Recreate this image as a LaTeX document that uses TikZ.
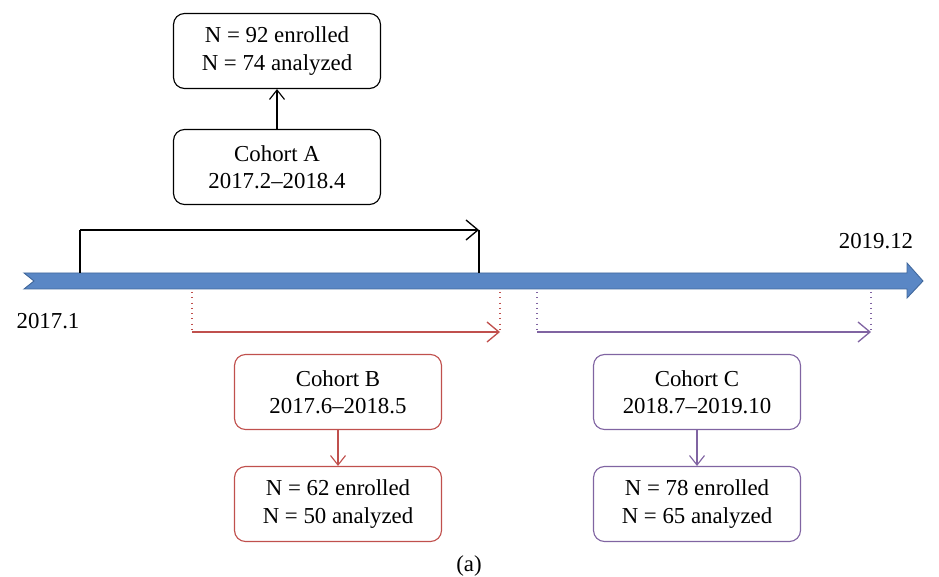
\documentclass[tikz,border=0pt]{standalone}
\usepackage{fontspec}
\setmainfont{Liberation Serif}
\usetikzlibrary{arrows.meta,positioning}

\definecolor{tlblue}{HTML}{5A87C5}
\definecolor{tledge}{HTML}{41689C}
\definecolor{cohred}{HTML}{C0504D}
\definecolor{cohpurple}{HTML}{8064A2}

\begin{document}
\begin{tikzpicture}[x=0.02cm,y=-0.02cm,
      font=\fontsize{13}{15.5}\selectfont,
      cohort/.style={
        rectangle,
        draw, line width=0.65pt,
        rounded corners=2.2mm,
        minimum width=4.14cm,
        minimum height=1.5cm,
        align=center
      },
      arrow/.style={
        -{Straight Barb[length=2.4mm,width=4mm]},
        line width=0.75pt
      },
      smallarrow/.style={
        -{Straight Barb[length=1.9mm,width=3mm]},
        line width=0.65pt
      },
      tick/.style={
        line width=0.65pt,
        dash pattern=on 0.5pt off 2.5pt
      }
    ]
      \useasboundingbox (0,0) rectangle (939,577);
      % timeline
      \draw[fill=tlblue, draw=tledge, line width=0.5pt]
        (24,273) -- (907,273) -- (907,263) -- (923,281) -- (907,298)
        -- (907,289) -- (24,289) -- (34,281) -- cycle;
      \node (start) at (48,321) {2017.1};
      \node (stop) at (876,241) {2019.12};

      % cohort A
      \node[cohort] (cohortA) at (277,167) {Cohort A \\ 2017.2--2018.4};
      \node[cohort] (countA) at (277,51) {N = 92 enrolled \\ N = 74 analyzed};
      \draw[smallarrow] (cohortA) -- (countA);
      \coordinate (a0) at (80,273);
      \coordinate (a1) at (80,230);
      \coordinate (a2) at (479,230);
      \coordinate (a3) at (479,273);
      \draw[line width=0.75pt] (a0) -- (a1);
      \draw[arrow] (a1) -- (a2);
      \draw[line width=0.75pt] (a2) -- (a3);

      % cohort B
      \node[cohort, draw=cohred] (cohortB) at (338,392) {Cohort B \\ 2017.6--2018.5};
      \node[cohort, draw=cohred] (countB) at (338,504) {N = 62 enrolled \\ N = 50 analyzed};
      \draw[smallarrow, cohred] (cohortB) -- (countB);
      \coordinate (b0) at (192,292);
      \coordinate (b1) at (192,332);
      \coordinate (b2) at (500,332);
      \coordinate (b3) at (500,292);
      \draw[tick, cohred] (b0) -- (b1);
      \draw[arrow, cohred] (b1) -- (b2);
      \draw[tick, cohred] (b3) -- (b2);

      % cohort C
      \node[cohort, draw=cohpurple] (cohortC) at (697,392) {Cohort C \\ 2018.7--2019.10};
      \node[cohort, draw=cohpurple] (countC) at (697,504) {N = 78 enrolled \\ N = 65 analyzed};
      \draw[smallarrow, cohpurple] (cohortC) -- (countC);
      \coordinate (c0) at (537,292);
      \coordinate (c1) at (537,332);
      \coordinate (c2) at (871,332);
      \coordinate (c3) at (871,292);
      \draw[tick, cohpurple] (c0) -- (c1);
      \draw[arrow, cohpurple] (c1) -- (c2);
      \draw[tick, cohpurple] (c3) -- (c2);

      \node (caption) at (469,566) {(a)};
    \end{tikzpicture}
\end{document}
